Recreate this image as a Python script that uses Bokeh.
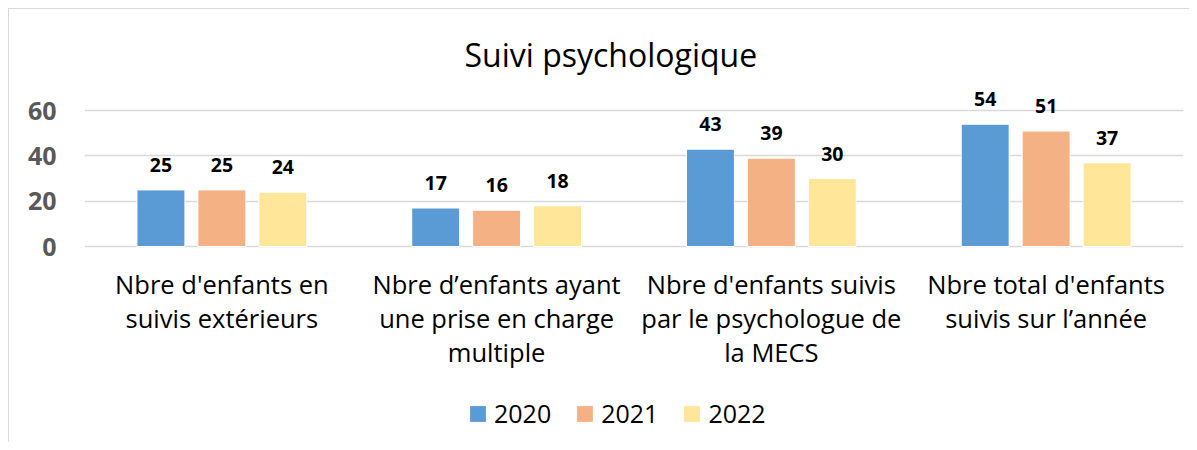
from bokeh.plotting import figure
from bokeh.models import (FactorRange, Range1d, FixedTicker, Legend,
                          LegendItem, ColumnDataSource)
from bokeh.transform import dodge
from bokeh.core.properties import value
from bokeh.embed import file_html
from bokeh.resources import INLINE

# ---- data ----
categories = [
    "Nbre d'enfants en\nsuivis extérieurs",
    "Nbre d\u2019enfants ayant\nune prise en charge\nmultiple",
    "Nbre d'enfants suivis\npar le psychologue de\nla MECS",
    "Nbre total d'enfants\nsuivis sur l\u2019année",
]
years = ["2020", "2021", "2022"]
v2020 = [25, 17, 43, 54]
v2021 = [25, 16, 39, 51]
v2022 = [24, 18, 30, 37]
y_ticks = [0, 20, 40, 60]
title_text = "Suivi psychologique"

colors = ["#5B9BD5", "#F4B183", "#FFE699"]
FONT = "Open Sans"

src = ColumnDataSource(dict(
    cat=categories,
    base=[0] * len(categories),
    y2020=v2020, y2021=v2021, y2022=v2022,
    t2020=[str(v) for v in v2020],
    t2021=[str(v) for v in v2021],
    t2022=[str(v) for v in v2022],
))

p = figure(
    x_range=FactorRange(*categories, range_padding=0),
    y_range=Range1d(-87, 72),
    width=1181, height=434,
    output_backend="svg", toolbar_location=None,
    min_border_left=75, min_border_right=7,
    min_border_top=74, min_border_bottom=0,
    title=title_text,
)
p.styles = {"margin-left": "8px", "margin-top": "8px",
            "border-left": "1px solid #d9d9d9", "border-top": "1px solid #d9d9d9"}
p.outline_line_color = None
p.background_fill_color = "white"
p.border_fill_color = "white"

p.title.align = "left"
p.title.offset = 380
p.title.text_font = FONT
p.title.text_font_size = "32px"
p.title.text_font_style = "normal"
p.title.text_color = "#000000"
p.title.standoff = 15

# axes
p.xaxis.visible = False
p.xgrid.visible = False
p.ygrid.ticker = FixedTicker(ticks=y_ticks)
p.ygrid.grid_line_color = "#d9d9d9"
p.ygrid.grid_line_width = 1.5

p.yaxis.ticker = FixedTicker(ticks=y_ticks)
p.yaxis.axis_line_color = None
p.yaxis.major_tick_line_color = None
p.yaxis.minor_tick_line_color = None
p.yaxis.major_label_text_font = FONT
p.yaxis.major_label_text_font_size = "25px"
p.yaxis.major_label_text_font_style = "bold"
p.yaxis.major_label_text_color = "#595959"
p.yaxis.major_label_standoff = 22

# category labels under the bars
p.text(x="cat", y="base", text="cat", source=src, text_align="center",
       text_baseline="top", y_offset=20, text_font=value(FONT),
       text_font_size="25.5px", text_color="#000000", text_line_height=1.0)

offsets = [-0.2218, 0.0, 0.2218]
renderers = []
for yr, off, c in zip(years, offsets, colors):
    r = p.vbar(x=dodge("cat", off, range=p.x_range), top="y" + yr, width=0.1745,
               source=src, fill_color=c, line_color="white", line_width=1)
    renderers.append(r)
    p.text(x=dodge("cat", off, range=p.x_range), y="y" + yr, text="t" + yr,
           source=src, text_align="center", text_baseline="middle", y_offset=-25,
           text_font=value(FONT), text_font_style="bold", text_font_size="19.5px",
           text_color="#000000")

legend = Legend(
    items=[LegendItem(label=yr, renderers=[r]) for yr, r in zip(years, renderers)],
    orientation="horizontal", location=(383, 13),
    label_text_font=FONT, label_text_font_size="25px", label_text_color="#000000",
    glyph_width=21, glyph_height=21, label_standoff=6, spacing=23,
    padding=0, margin=0, border_line_color=None, background_fill_alpha=0,
    label_height=21,
)
p.add_layout(legend, "center")

open("out.html", "w").write(file_html(p, INLINE))
